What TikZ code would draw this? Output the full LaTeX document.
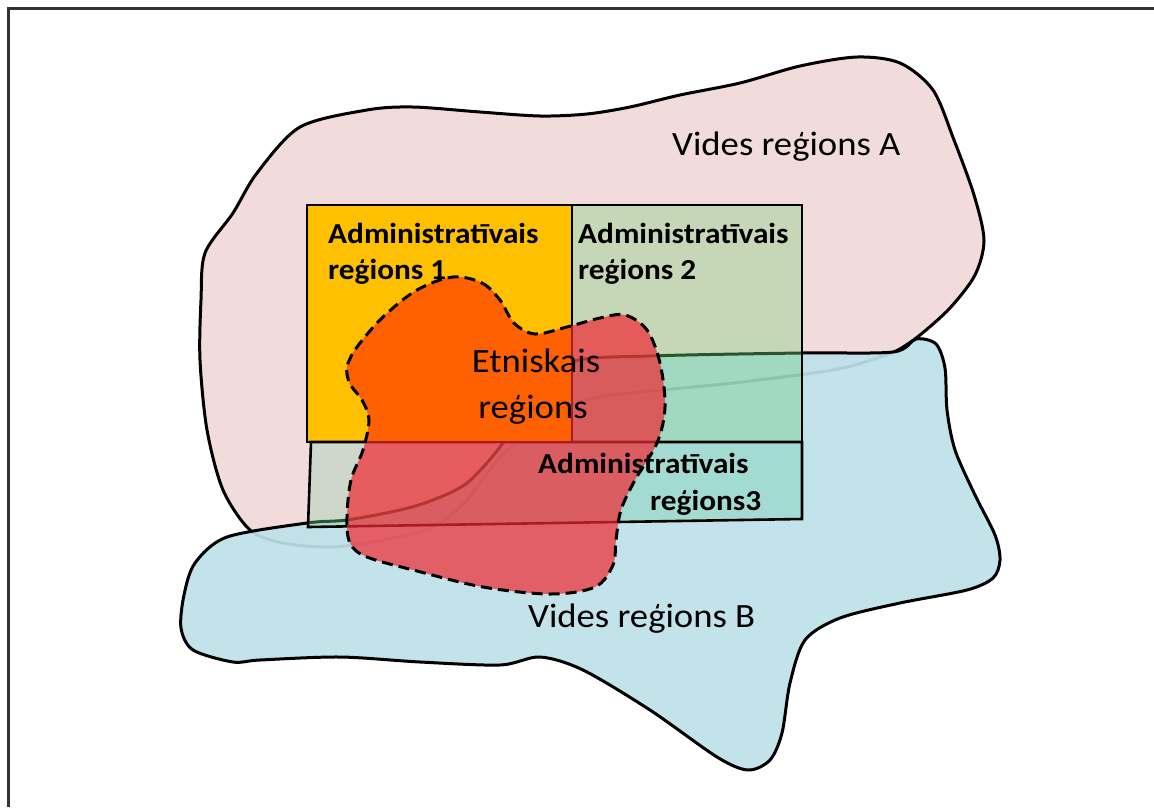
\documentclass[tikz,border=0pt]{standalone}
\usepackage{fontspec}
\setmainfont{Carlito}[FakeStretch=1.08]
\definecolor{pinkA}{RGB}{242,220,219}
\definecolor{blueB}{RGB}{190,225,233}
\definecolor{admOne}{RGB}{255,192,0}
\definecolor{admTwoUp}{RGB}{197,215,182}
\definecolor{admTwoLow}{RGB}{160,216,192}
\definecolor{admThreeL}{RGB}{206,216,202}
\definecolor{admThreeR}{RGB}{163,218,210}
\definecolor{ethRed}{RGB}{242,40,50}
\definecolor{ethOrange}{RGB}{255,96,0}
\definecolor{frameGray}{RGB}{50,50,50}
\definecolor{darkGreen}{RGB}{40,85,45}
\def\pathA{plot[smooth cycle, tension=0.5] coordinates {(250,530) (223,490) (207,430) (200,360) (201,300) (205,253) (233,213) (257,173) (300,127) (367,110) (413,107) (480,112) (540,116) (587,114) (630,107) (680,95) (740,83) (800,66) (857,57) (900,63) (933,90) (954,140) (974,195) (984,240) (975,275) (950,308) (920,335) (898,350) (877,358) (833,370) (733,383) (600,397) (560,413) (533,430) (500,457) (467,500) (433,527) (383,540) (333,547) (283,543)}}
\def\pathB{plot[smooth cycle, tension=0.5] coordinates {(227,537) (307,523) (347,520) (400,510) (433,500) (467,483) (500,447) (530,400) (572,362) (650,356) (800,353) (893,352) (916,339) (936,344) (945,368) (947,410) (955,450) (975,495) (995,535) (1000,560) (993,578) (967,590) (900,603) (840,618) (805,640) (790,683) (782,733) (770,760) (748,770) (717,757) (650,710) (583,670) (540,657) (500,665) (420,662) (340,657) (260,660) (233,662) (193,650) (181,628) (184,595) (195,563)}}
\def\pathE{plot[smooth cycle, tension=0.55] coordinates {(453,277) (482,283) (500,300) (514,323) (535,334) (567,327) (600,318) (625,315) (647,330) (660,363) (665,407) (657,443) (635,480) (621,510) (616,540) (613,565) (595,587) (550,594) (483,587) (417,571) (367,557) (350,543) (347,517) (351,480) (363,450) (369,420) (362,400) (350,384) (347,367) (357,347) (383,317) (417,290)}}
\def\rectOne{(307,205) rectangle (572,442)}
\def\rectTwo{(572,205) rectangle (802,442)}
\def\rectThree{(311,442) -- (802,442) -- (802,519) -- (308,527) -- cycle}
\begin{document}
\begin{tikzpicture}[x=1pt,y=-1pt,
  outline/.style={black, line width=3pt, line join=round},
  boxline/.style={black, line width=2.6pt},
  vtext/.style={inner sep=0pt, text=black, font=\fontsize{34}{40}\selectfont},
  atext/.style={inner sep=0pt, text=black, font=\fontsize{29}{35}\selectfont\bfseries}]
\useasboundingbox (0,0) rectangle (1154,807);
\fill[white] (0,0) rectangle (1154,807);
% frame
\draw[frameGray, line width=2.4pt] (8.5,807) -- (8.5,8.5) -- (1154,8.5);
% environmental region A
\fill[pinkA] \pathA;
\draw[outline] \pathA;
% environmental region B
\fill[blueB, opacity=0.92] \pathB;
\draw[outline] \pathB;
% administrative regions
\fill[admOne] \rectOne;
\fill[admTwoUp] \rectTwo;
\fill[admThreeL] \rectThree;
\begin{scope}
  \clip \pathB;
  \fill[admTwoLow] \rectTwo;
  \fill[admThreeR] \rectThree;
\end{scope}
\begin{scope}
  \clip (572,205) rectangle (802,442) (311,442) -- (802,442) -- (802,519) -- (308,527) -- cycle;
  \draw[black, opacity=0.1, line width=3pt] \pathA;
  \draw[darkGreen, line width=3pt] \pathB;
\end{scope}
\draw[boxline] \rectOne;
\draw[boxline] \rectTwo;
\draw[boxline] \rectThree;
% ethnic region
\fill[ethRed, opacity=0.7] \pathE;
\begin{scope}
  \clip (308.4,206.4) rectangle (570.6,440.6);
  \fill[ethOrange] \pathE;
\end{scope}
\draw[black, line width=3pt, dash pattern=on 11pt off 6pt] \pathE;
% labels
\node[vtext, anchor=base west] (va) at (672,155) {Vides reģions A};
\node[vtext, anchor=base west] (vb) at (528,627) {Vides reģions B};
\node[vtext, anchor=base] (e1) at (536,372) {Etniskais};
\node[vtext, anchor=base] (e2) at (533,418) {reģions};
\node[atext, anchor=base west] (a1a) at (328,243) {Administratīvais};
\node[atext, anchor=base west] (a1b) at (328,279) {reģions 1};
\node[atext, anchor=base west] (a2a) at (578,243) {Administratīvais};
\node[atext, anchor=base west] (a2b) at (578,279) {reģions 2};
\node[atext, anchor=base west] (a3a) at (538,473) {Administratīvais};
\node[atext, anchor=base west] (a3b) at (650,510) {reģions3};
\end{tikzpicture}
\end{document}
